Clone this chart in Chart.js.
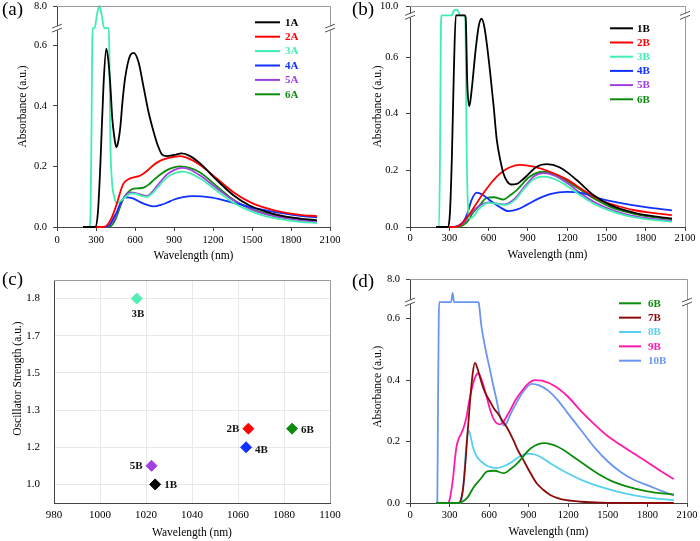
<!DOCTYPE html>
<html>
<head>
<meta charset="utf-8">
<script src="https://cdn.jsdelivr.net/npm/chart.js@4.4.1/dist/chart.umd.min.js"></script>
<style>
body { margin: 0; background: #fff; width: 700px; height: 541px; position: relative; overflow: hidden; }
.panel { position: absolute; }
.tag { position: absolute; font: 19px/1 "Liberation Serif", serif; color: #000; }
</style>
</head>
<body>
<div class="panel" style="left:0;top:0"><canvas id="pa" width="350" height="270"></canvas></div>
<div class="panel" style="left:350px;top:0"><canvas id="pb" width="350" height="270"></canvas></div>
<div class="panel" style="left:0;top:270px"><canvas id="pc" width="350" height="271"></canvas></div>
<div class="panel" style="left:350px;top:270px"><canvas id="pd" width="350" height="271"></canvas></div>
<div class="tag" style="left:2px;top:-1px">(a)</div>
<div class="tag" style="left:352px;top:-1px">(b)</div>
<div class="tag" style="left:2px;top:269px">(c)</div>
<div class="tag" style="left:352px;top:271px">(d)</div>
<script>
// spectra, [wavelength nm, absorbance]
const s1A = [[200,0],[294,0],[315,0.05],[333,0.2],[358,0.47],[379,0.589],[395,0.55],[410,0.47],[425,0.36],[440,0.3],[456,0.264],[470,0.28],[487,0.33],[505,0.42],[525,0.495],[563,0.567],[589,0.575],[627,0.545],[666,0.462],[704,0.38],[743,0.315],[775,0.27],[807,0.24],[845,0.234],[900,0.238],[960,0.243],[1020,0.235],[1101,0.21],[1229,0.155],[1357,0.105],[1485,0.07],[1610,0.05],[1741,0.036],[1870,0.028],[2000,0.022]];
const s2A = [[200,0],[360,0],[384,0.005],[420,0.03],[461,0.078],[490,0.12],[512,0.144],[550,0.158],[589,0.164],[630,0.168],[666,0.177],[705,0.19],[743,0.205],[800,0.22],[845,0.227],[900,0.232],[948,0.234],[1020,0.225],[1101,0.205],[1229,0.16],[1357,0.115],[1485,0.082],[1610,0.062],[1741,0.048],[1870,0.04],[2000,0.036]];
const s3A = [[200,0],[250,0],[258,0.05],[265,0.3],[271,0.6],[274,1.0],[289,7.0],[307,7.6],[325,8.0],[344,7.6],[363,7.0],[397,1.0],[402,0.6],[410,0.29],[423,0.15],[440,0.1],[460,0.08],[487,0.085],[530,0.1],[563,0.11],[600,0.11],[650,0.103],[692,0.1],[730,0.11],[768,0.128],[845,0.163],[900,0.177],[960,0.183],[1020,0.178],[1101,0.16],[1229,0.12],[1357,0.08],[1485,0.053],[1610,0.035],[1741,0.024],[1870,0.017],[2000,0.013]];
const s4A = [[200,0],[360,0],[390,0.003],[410,0.01],[435,0.03],[461,0.05],[490,0.08],[525,0.098],[560,0.097],[589,0.094],[640,0.082],[700,0.072],[743,0.068],[800,0.073],[845,0.08],[896,0.09],[960,0.098],[1050,0.102],[1178,0.098],[1270,0.09],[1357,0.08],[1485,0.066],[1610,0.055],[1741,0.045],[1870,0.037],[2000,0.032]];
const s5A = [[200,0],[370,0],[400,0.005],[440,0.025],[486,0.075],[530,0.105],[563,0.114],[600,0.113],[650,0.106],[692,0.103],[730,0.115],[768,0.135],[845,0.173],[900,0.188],[960,0.195],[1020,0.19],[1101,0.17],[1229,0.128],[1357,0.088],[1485,0.06],[1610,0.042],[1741,0.03],[1870,0.022],[2000,0.017]];
const s6A = [[200,0],[380,0],[420,0.005],[450,0.025],[486,0.067],[512,0.095],[538,0.111],[589,0.127],[630,0.128],[666,0.13],[705,0.14],[743,0.155],[800,0.175],[845,0.188],[900,0.197],[948,0.2],[1020,0.195],[1101,0.18],[1229,0.135],[1357,0.09],[1485,0.062],[1610,0.044],[1741,0.033],[1870,0.025],[2000,0.02]];

const s1B = [[200,0],[290,0],[305,0.05],[320,0.25],[335,0.55],[350,0.75],[356,1.2],[418,1.2],[425,0.74],[438,0.5],[453,0.426],[470,0.48],[500,0.62],[525,0.71],[547,0.735],[570,0.7],[611,0.55],[640,0.42],[662,0.31],[690,0.235],[713,0.19],[740,0.162],[770,0.15],[815,0.152],[850,0.163],[891,0.18],[967,0.213],[1044,0.222],[1145,0.21],[1273,0.166],[1400,0.113],[1527,0.078],[1731,0.048],[2000,0.03]];
const s2B = [[200,0],[340,0],[380,0.005],[420,0.025],[458,0.048],[510,0.085],[560,0.119],[610,0.15],[662,0.178],[713,0.198],[764,0.211],[840,0.219],[942,0.213],[1069,0.195],[1197,0.168],[1324,0.13],[1451,0.095],[1580,0.075],[1705,0.06],[1850,0.05],[2000,0.042]];
const s3B = [[200,0],[222,0],[230,0.3],[236,0.7],[242,1.5],[318,9.0],[335,9.5],[351,9.6],[367,9.5],[382,9.0],[418,1.5],[424,0.7],[432,0.3],[442,0.08],[455,0.03],[480,0.035],[520,0.06],[560,0.078],[600,0.085],[650,0.083],[725,0.078],[800,0.095],[880,0.14],[950,0.17],[1018,0.178],[1100,0.17],[1200,0.145],[1300,0.112],[1400,0.083],[1500,0.062],[1650,0.04],[1800,0.028],[2000,0.019]];
const s4B = [[200,0],[330,0],[370,0.005],[410,0.02],[440,0.05],[470,0.095],[509,0.121],[550,0.115],[600,0.098],[687,0.07],[751,0.056],[820,0.062],[891,0.078],[980,0.1],[1069,0.116],[1196,0.124],[1324,0.119],[1451,0.1],[1600,0.085],[1800,0.07],[2000,0.059]];
const s5B = [[200,0],[340,0],[380,0.005],[420,0.02],[460,0.045],[500,0.065],[550,0.08],[600,0.087],[650,0.083],[725,0.08],[800,0.1],[880,0.145],[950,0.18],[1018,0.19],[1100,0.182],[1200,0.155],[1300,0.12],[1400,0.09],[1500,0.068],[1650,0.045],[1800,0.032],[2000,0.022]];
const s6B = [[200,0],[360,0],[400,0.005],[440,0.02],[480,0.05],[535,0.078],[585,0.103],[640,0.105],[713,0.097],[760,0.11],[815,0.13],[916,0.178],[1018,0.195],[1120,0.183],[1273,0.14],[1425,0.095],[1525,0.072],[1629,0.056],[1800,0.038],[2000,0.027]];
const s7B = [[200,0],[370,0],[385,0.01],[400,0.04],[416,0.108],[435,0.22],[454,0.325],[475,0.42],[492,0.456],[510,0.44],[530,0.41],[555,0.375],[580,0.35],[606,0.331],[640,0.305],[669,0.29],[700,0.268],[732,0.248],[782,0.206],[820,0.17],[858,0.141],[910,0.1],[959,0.065],[1010,0.043],[1060,0.027],[1120,0.016],[1186,0.009],[1300,0.004],[1450,0.001],[1700,0],[2000,0]];
const s8B = [[200,0],[380,0],[391,0.01],[405,0.06],[420,0.15],[432,0.21],[442,0.237],[455,0.225],[475,0.185],[505,0.152],[540,0.135],[580,0.122],[620,0.116],[656,0.114],[700,0.118],[760,0.13],[820,0.148],[883,0.16],[920,0.16],[980,0.152],[1060,0.13],[1180,0.1],[1312,0.073],[1440,0.053],[1565,0.038],[1700,0.025],[1817,0.017],[2000,0.009]];
const s9B = [[200,0],[285,0],[300,0.01],[315,0.045],[328,0.087],[340,0.14],[353,0.184],[370,0.21],[391,0.228],[410,0.25],[429,0.282],[448,0.33],[467,0.369],[490,0.405],[517,0.423],[535,0.41],[555,0.385],[580,0.347],[610,0.3],[635,0.272],[656,0.26],[680,0.256],[705,0.262],[730,0.28],[757,0.3],[800,0.335],[858,0.37],[900,0.39],[946,0.4],[1000,0.398],[1100,0.38],[1200,0.345],[1300,0.297],[1400,0.255],[1500,0.217],[1600,0.188],[1700,0.16],[1800,0.133],[1900,0.104],[2000,0.078]];
const s10B = [[200,0],[207,0],[212,0.3],[218,0.6],[222,1.5],[303,5.0],[312,7.0],[323,7.4],[334,7.0],[345,5.0],[517,1.5],[522,0.65],[540,0.58],[555,0.54],[580,0.485],[606,0.434],[630,0.385],[656,0.336],[675,0.295],[694,0.266],[712,0.252],[730,0.258],[757,0.285],[800,0.32],[858,0.362],[921,0.388],[980,0.383],[1050,0.365],[1120,0.335],[1200,0.29],[1300,0.235],[1400,0.18],[1500,0.135],[1600,0.1],[1700,0.075],[1817,0.055],[1900,0.04],[2000,0.025]];

const xTicks = [0, 300, 600, 900, 1200, 1500, 1800, 2100];
const yTicksA = [0, 0.2, 0.4, 0.6, 8.0];
const yTicksB = [0, 0.2, 0.4, 0.6, 10.0];
const yTicksD = [0, 0.2, 0.4, 0.6, 8.0];

// panel (c)
const oscNames = ['1B', '2B', '3B', '4B', '5B', '6B'];
const oscWl = [1024, 1064.5, 1016, 1063.5, 1022.4, 1083.5];
const oscF = [1.0, 1.24, 1.8, 1.16, 1.08, 1.24];
const oscTickVals = [1.0, 1.16, 1.32, 1.48, 1.64, 1.8];
const oscTickLabels = ['1.0', '1.2', '1.3', '1.5', '1.7', '1.8'];
const oscXTicks = [980, 1000, 1020, 1040, 1060, 1080, 1100];

const col = {
	c1: '#000000', c2: '#ff0000', c3: '#40eeb0', c4: '#1030ff', c5: '#a040e0',
	c6: '#0c8c0c', c7: '#8b0a0a', c8: '#55d0f0', c9: '#ff1aaa', c10: '#6a96f0'
};
const oscColors = [col.c1, col.c2, '#55eeb4', col.c4, col.c5, col.c6];
const oscLabelSide = ['right', 'left', 'below', 'rightlow', 'left', 'right'];

const SERIF = '"Liberation Serif", "Times New Roman", serif';
Chart.defaults.font.family = SERIF;
Chart.defaults.color = '#000';

// broken y axis: linear up to the cut, flat through the gap, then the top band
function foldFor( cut, jump, top, topAt ) {
	return v => v <= cut ? v : v < jump ? cut : cut + ( v - jump ) / ( top - jump ) * ( topAt - cut );
}

function brokenScale( id, fold ) {
	class S extends Chart.LinearScale {
		getPixelForValue( v ) {
			return super.getPixelForValue( v === null || v === undefined ? v : fold( v ) );
		}
	}
	S.id = id;
	S.defaults = Chart.LinearScale.defaults;
	Chart.register( S );
}

const plainNum = v => String( v );

const frame = {
	id: 'frame',
	afterDraw( chart ) {
		const { ctx, chartArea: a } = chart;
		ctx.save();
		ctx.strokeStyle = '#9a9a9a';
		ctx.lineWidth = 1;
		ctx.beginPath();
		ctx.moveTo( a.left, Math.round( a.top ) + 0.5 );
		ctx.lineTo( Math.round( a.right ) + 0.5, Math.round( a.top ) + 0.5 );
		ctx.lineTo( Math.round( a.right ) + 0.5, a.bottom );
		ctx.stroke();
		ctx.restore();
	}
};

const breakMarks = {
	id: 'breakMarks',
	afterDraw( chart, args, opts ) {
		if ( !opts.at ) return;
		const { ctx, chartArea: a } = chart;
		const y = chart.scales.y.getPixelForValue( opts.at );
		ctx.save();
		[ a.left, a.right ].forEach( x => {
			ctx.fillStyle = '#fff';
			ctx.fillRect( x - 2, y - 2, 4, 4 );
			ctx.strokeStyle = '#555';
			ctx.lineWidth = 1;
			[ -2, 2 ].forEach( d => {
				ctx.beginPath();
				ctx.moveTo( x - 5, y + d + 2 );
				ctx.lineTo( x + 5, y + d - 2 );
				ctx.stroke();
			} );
		} );
		ctx.restore();
	}
};

const inLegend = {
	id: 'inLegend',
	afterDatasetsDraw( chart, args, o ) {
		if ( !o.x0 ) return;
		const ctx = chart.ctx;
		ctx.save();
		ctx.font = 'bold 11px ' + SERIF;
		ctx.textBaseline = 'middle';
		chart.data.datasets.forEach( ( ds, i ) => {
			const y = o.y0 + i * o.dy;
			ctx.strokeStyle = ds.borderColor;
			ctx.lineWidth = 2;
			ctx.beginPath();
			ctx.moveTo( o.x0, y );
			ctx.lineTo( o.x1, y );
			ctx.stroke();
			ctx.fillStyle = ds.borderColor;
			ctx.fillText( ds.label, o.tx, y + 0.5 );
		} );
		ctx.restore();
	}
};

const pointTags = {
	id: 'pointTags',
	afterDatasetsDraw( chart ) {
		const ctx = chart.ctx;
		const pts = chart.getDatasetMeta( 0 ).data;
		ctx.save();
		ctx.font = 'bold 11px ' + SERIF;
		ctx.fillStyle = '#111';
		ctx.textBaseline = 'middle';
		pts.forEach( ( p, i ) => {
			const side = oscLabelSide[ i ];
			if ( side === 'below' ) {
				ctx.textAlign = 'center';
				ctx.fillText( oscNames[ i ], p.x + 1, p.y + 16 );
			} else if ( side === 'left' ) {
				ctx.textAlign = 'right';
				ctx.fillText( oscNames[ i ], p.x - 9, p.y );
			} else {
				ctx.textAlign = 'left';
				ctx.fillText( oscNames[ i ], p.x + 9, p.y + ( side === 'rightlow' ? 3 : 1 ) );
			}
		} );
		ctx.restore();
	}
};

function zeroPad( s ) {
	s.paddingTop = 0; s.paddingBottom = 0; s.paddingLeft = 0; s.paddingRight = 0;
}

function spectrum( canvasId, sets, o ) {
	const fold = foldFor( o.cut, o.jump, o.top, o.topAt );
	const scaleId = 'broken_' + canvasId;
	brokenScale( scaleId, fold );
	const W = 350, H = o.h;
	return new Chart( document.getElementById( canvasId ), {
		type: 'line',
		data: {
			datasets: sets.map( s => ( {
				  label: s[ 0 ]
				, data: s[ 1 ].map( p => ( { x: p[ 0 ], y: p[ 1 ] } ) )
				, borderColor: s[ 2 ]
				, backgroundColor: s[ 2 ]
				, borderWidth: 1.8
				, pointRadius: 0
				, cubicInterpolationMode: 'monotone'
				, fill: false
				, clip: false
			} ) )
		},
		options: {
			responsive: false,
			animation: false,
			devicePixelRatio: 1,
			events: [],
			layout: { autoPadding: false, padding: { top: o.box.top, right: W - o.box.right, left: 0, bottom: 0 } },
			plugins: {
				legend: { display: false },
				tooltip: { enabled: false },
				inLegend: o.legend,
				breakMarks: { at: o.cut }
			},
			scales: {
				x: {
					type: 'linear', min: 0, max: 2100,
					afterBuildTicks: s => { s.ticks = xTicks.map( v => ( { value: v } ) ); },
					afterFit: s => { s.height = H - o.box.bottom; zeroPad( s ); },
					ticks: { autoSkip: false, maxRotation: 0, font: { size: 10.5 }, padding: o.xTickPad, color: '#000', callback: plainNum },
					grid: { drawOnChartArea: false, tickLength: 4, color: '#444' },
					border: { color: '#444', width: 1 },
					title: { display: true, text: 'Wavelength (nm)', font: { size: 11.5 }, padding: { top: 0, bottom: o.xTitlePad }, color: '#000' }
				},
				y: {
					type: scaleId, min: 0, max: o.topAt,
					afterBuildTicks: s => { s.ticks = o.yTicks.map( v => ( { value: v } ) ); },
					afterFit: s => { s.width = o.box.left; zeroPad( s ); },
					ticks: { autoSkip: false, font: { size: 10.5 }, padding: o.yTickPad, color: '#000', callback: v => v.toFixed( 1 ) },
					grid: { drawOnChartArea: false, tickLength: 4, color: '#444' },
					border: { color: '#444', width: 1 },
					title: { display: true, text: o.yTitle, font: { size: 11.5 }, padding: { top: o.yTitlePad, bottom: 0 }, color: '#000' }
				}
			}
		},
		plugins: [ frame, breakMarks, inLegend ]
	} );
}

spectrum( 'pa', [
	  [ '1A', s1A, col.c1 ]
	, [ '2A', s2A, col.c2 ]
	, [ '3A', s3A, col.c3 ]
	, [ '4A', s4A, col.c4 ]
	, [ '5A', s5A, col.c5 ]
	, [ '6A', s6A, col.c6 ]
], {
	h: 270, box: { left: 57, right: 330, top: 6, bottom: 227 },
	cut: 0.657, jump: 7.0, top: 8.0, topAt: 0.73, yTicks: yTicksA,
	xTickPad: 2.5, xTitlePad: 6.8, yTickPad: 6, yTitlePad: 15.8,
	yTitle: '       Absorbance (a.u.)',
	legend: { x0: 255, x1: 280, tx: 285, y0: 22.3, dy: 14.4 }
} );

spectrum( 'pb', [
	  [ '1B', s1B, col.c1 ]
	, [ '2B', s2B, col.c2 ]
	, [ '3B', s3B, col.c3 ]
	, [ '4B', s4B, col.c4 ]
	, [ '5B', s5B, col.c5 ]
	, [ '6B', s6B, col.c6 ]
], {
	h: 270, box: { left: 60, right: 335, top: 6, bottom: 227 },
	cut: 0.747, jump: 9.0, top: 10.0, topAt: 0.78, yTicks: yTicksB,
	xTickPad: 0.5, xTitlePad: 7.8, yTickPad: 7.7, yTitlePad: 20.8,
	yTitle: '       Absorbance (a.u.)',
	legend: { x0: 260, x1: 283, tx: 287, y0: 28.3, dy: 14.2 }
} );

spectrum( 'pd', [
	  [ '6B', s6B, col.c6 ]
	, [ '7B', s7B, col.c7 ]
	, [ '8B', s8B, col.c8 ]
	, [ '9B', s9B, col.c9 ]
	, [ '10B', s10B, col.c10 ]
], {
	h: 271, box: { left: 60, right: 337, top: 9, bottom: 233 },
	cut: 0.654, jump: 7.0, top: 8.0, topAt: 0.729, yTicks: yTicksD,
	xTickPad: 2.4, xTitlePad: 2.1, yTickPad: 6, yTitlePad: 20.8,
	yTitle: '   Absorbance (a.u.)',
	legend: { x0: 269, x1: 291, tx: 298, y0: 33.3, dy: 14.35 }
} );

new Chart( document.getElementById( 'pc' ), {
	type: 'scatter',
	data: {
		datasets: [ {
			  data: oscWl.map( ( w, i ) => ( { x: w, y: oscF[ i ] } ) )
			, pointStyle: 'rectRot'
			, pointRadius: 5.5
			, pointBackgroundColor: oscColors
			, pointBorderColor: oscColors
			, pointBorderWidth: 1
		} ]
	},
	options: {
		responsive: false,
		animation: false,
		devicePixelRatio: 1,
		events: [],
		layout: { autoPadding: false, padding: { top: 10, right: 20, left: 0, bottom: 0 } },
		plugins: { legend: { display: false }, tooltip: { enabled: false } },
		scales: {
			x: {
				type: 'linear', min: 980, max: 1100,
				afterBuildTicks: s => { s.ticks = oscXTicks.map( v => ( { value: v } ) ); },
				afterFit: s => { s.height = 271 - 233; zeroPad( s ); },
				ticks: { autoSkip: false, maxRotation: 0, font: { size: 11 }, padding: 5.4, color: '#000', callback: plainNum },
				grid: { drawTicks: false, color: '#e9e9e9' },
				border: { color: '#444', width: 1 },
				title: { display: true, text: 'Wavelength (nm)', font: { size: 11.5 }, padding: { top: 0, bottom: 0.8 }, color: '#000' }
			},
			y: {
				type: 'linear', min: 0.92, max: 1.88,
				afterBuildTicks: s => { s.ticks = oscTickVals.map( v => ( { value: v } ) ); },
				afterFit: s => { s.width = 54; zeroPad( s ); },
				ticks: { autoSkip: false, font: { size: 11 }, padding: 14, color: '#000',
					callback: ( v, i ) => oscTickLabels[ i ] },
				grid: { drawTicks: false, color: '#e9e9e9' },
				border: { color: '#444', width: 1 },
				title: { display: true, text: '         Oscillator Strength (a.u.)', font: { size: 11.5 }, padding: { top: 11, bottom: 0 }, color: '#000' }
			}
		}
	},
	plugins: [ frame, pointTags ]
} );
</script>
</body>
</html>
